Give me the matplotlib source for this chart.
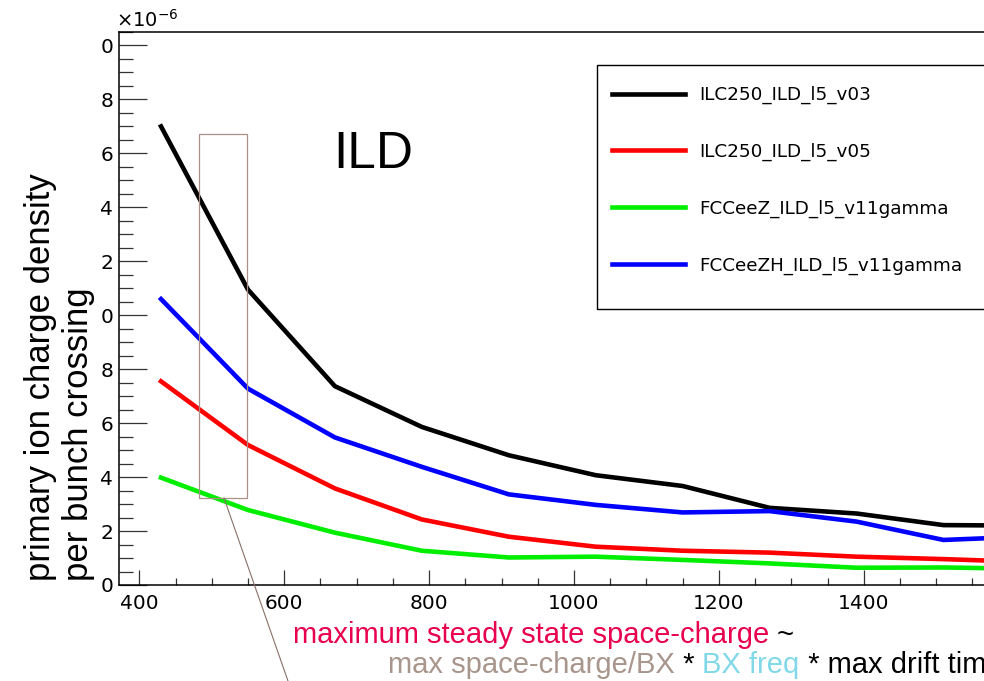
import matplotlib
matplotlib.use("Agg")
import matplotlib.pyplot as plt
from matplotlib.ticker import MultipleLocator, FixedLocator, FuncFormatter
from matplotlib.patches import Rectangle
from matplotlib.lines import Line2D

W, H = 984, 681

# data (values in units of 1e-6)
drift = [430, 550, 670, 790, 910, 1030, 1150, 1270, 1390, 1510, 1630]
ilc250_v03 = [17.0, 10.95, 7.37, 5.86, 4.81, 4.07, 3.67, 2.86, 2.65, 2.22, 2.2]
ilc250_v05 = [7.55, 5.19, 3.58, 2.43, 1.79, 1.42, 1.27, 1.2, 1.05, 0.96, 0.85]
fccz_v11 = [3.98, 2.78, 1.94, 1.27, 1.02, 1.05, 0.93, 0.8, 0.64, 0.65, 0.6]
fcczh_v11 = [10.6, 7.28, 5.47, 4.38, 3.36, 2.97, 2.69, 2.74, 2.35, 1.67, 1.8]

names = ["ILC250_ILD_l5_v03", "ILC250_ILD_l5_v05",
         "FCCeeZ_ILD_l5_v11gamma", "FCCeeZH_ILD_l5_v11gamma"]
series = [ilc250_v03, ilc250_v05, fccz_v11, fcczh_v11]
colors = ["#000000", "#ff0000", "#00ee00", "#0000ff"]
x_ticks = [400, 600, 800, 1000, 1200, 1400]


def fx(px):
    return px / W


def fy(py):
    return 1 - py / H


fig = plt.figure(figsize=(W / 100, H / 100), dpi=100)
plt.rcParams['font.family'] = ['DejaVu Sans']

# axes: x 372..1700 at 0.7245 px/unit, runs past the right edge
x0, x1 = 372, 1700
ax = fig.add_axes([fx(119), fy(585), (x1 - x0) * 0.7245 / W, (585 - 32) / H])
ax.set_xlim(x0, x1)
ax.set_ylim(0, 20.5)

handles = []
for ys, c, n in zip(series, colors, names):
    h, = ax.plot(drift, ys, color=c, lw=3.3, label=n)
    handles.append(h)

ax.xaxis.set_major_locator(FixedLocator(x_ticks))
ax.xaxis.set_minor_locator(MultipleLocator(50))
ax.yaxis.set_major_locator(MultipleLocator(2))
ax.yaxis.set_minor_locator(MultipleLocator(0.5))
# only the last digit of the y labels is visible in the original
ax.yaxis.set_major_formatter(FuncFormatter(lambda v, p: str(int(round(v)) % 10)))

ax.tick_params(axis='x', which='major', direction='in', length=10.8, width=0.9,
               color='#333333', labelsize=14.5, pad=6.5)
ax.tick_params(axis='x', which='minor', direction='in', length=5, width=0.9, color='#333333')
ax.tick_params(axis='y', which='major', direction='in', length=20, width=0.9,
               color='#333333', labelsize=14.5, pad=4.3)
ax.tick_params(axis='y', which='minor', direction='in', length=10, width=0.9, color='#333333')
for s in ax.spines.values():
    s.set_linewidth(1.1)

# exponent label
fig.text(fx(116), fy(27), r'$\times10^{-6}$', fontsize=14, va='baseline', ha='left')

# legend with its own frame
fig.add_artist(Rectangle((fx(597), fy(309)), fx(1010) - fx(597), (309 - 65) / H,
                         transform=fig.transFigure, fill=False, edgecolor='black', lw=1))
fig.legend(handles, names, loc='upper left', bbox_to_anchor=(fx(612), fy(86)),
           frameon=False, borderpad=0, borderaxespad=0, fontsize=13.2,
           handlelength=4.0, handletextpad=0.75, labelspacing=2.1)

# slide annotations
fig.text(fx(333), fy(168), "ILD", fontsize=37, family='Liberation Sans', va='baseline')

fig.text(fx(24), fy(581), "primary ion charge density\nper bunch crossing", rotation=90,
         ha='left', va='bottom', multialignment='left', fontsize=25,
         family='Liberation Sans', linespacing=1.2)

fig.add_artist(Rectangle((fx(199), fy(498)), fx(247) - fx(199), (498 - 134) / H,
                         transform=fig.transFigure, fill=False, edgecolor='#a89088', lw=0.9))
fig.add_artist(Line2D([fx(224), fx(288)], [fy(498), fy(681)], transform=fig.transFigure,
                      color='#8a6f66', lw=0.8))

renderer = fig.canvas.get_renderer()


def text_run(x_px, y_px, parts, size):
    x = fx(x_px)
    for s, c in parts:
        t = fig.text(x, fy(y_px), s, color=c, fontsize=size, family='Liberation Sans',
                     va='baseline', ha='left')
        bb = t.get_window_extent(renderer=renderer)
        x = bb.x1 / W


text_run(293, 643, [("maximum steady state space-charge", "#e8004f"), (" ~", "black")], 21)
text_run(388, 673, [("max space-charge/BX", "#a8958c"), (" * ", "black"),
                    ("BX freq", "#80d8e8"), (" * max drift time", "black")], 21)

fig.savefig("out.png", dpi=100)
